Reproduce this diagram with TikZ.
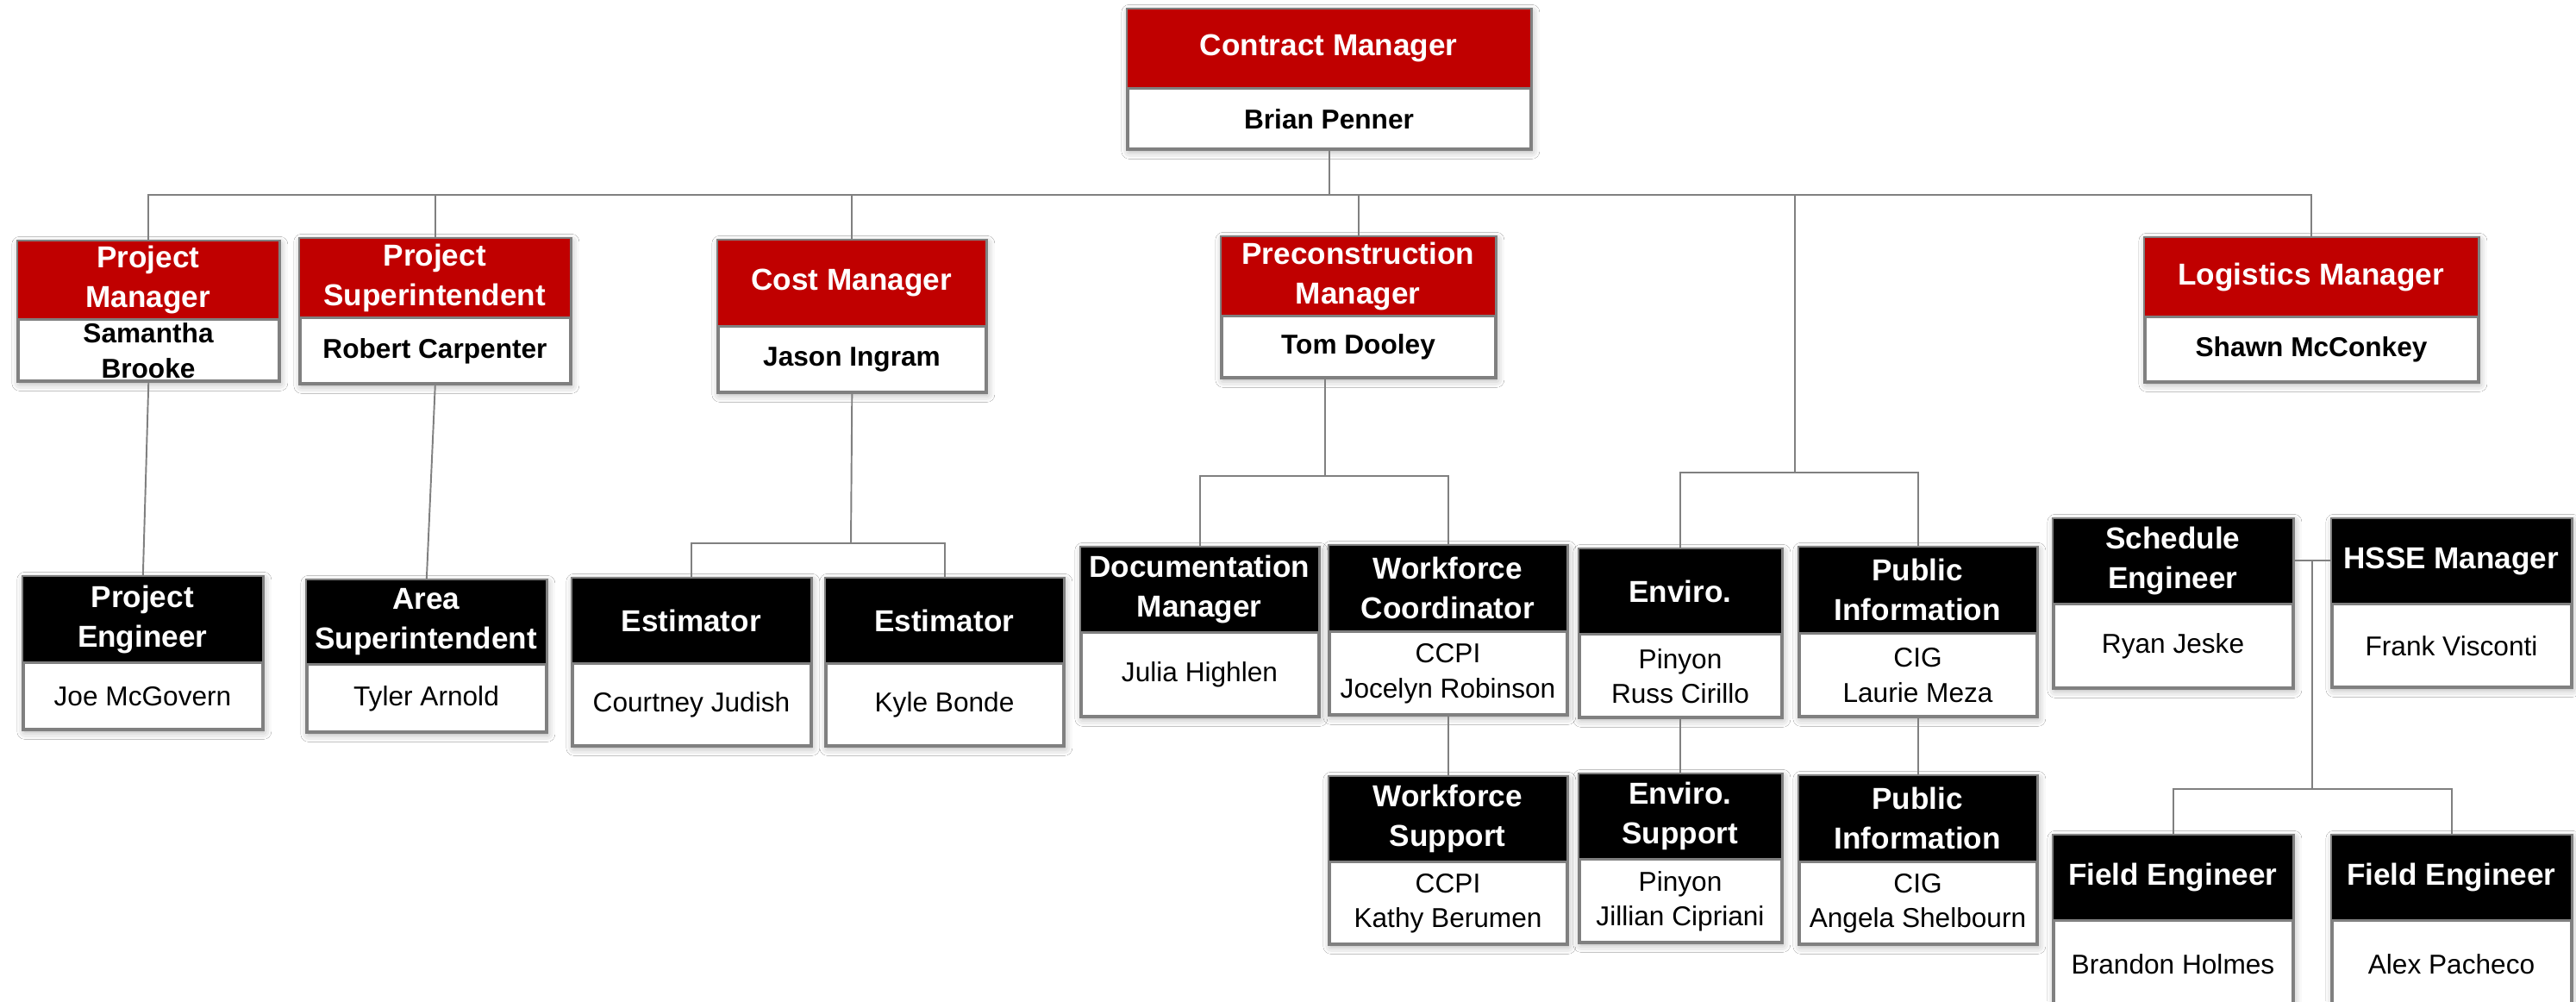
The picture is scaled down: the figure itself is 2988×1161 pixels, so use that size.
\documentclass[tikz,border=0pt]{standalone}
\usepackage{fontspec}
\setmainfont{Liberation Sans}
\usetikzlibrary{calc,shadows.blur}
\definecolor{hred}{RGB}{192,0,0}
\definecolor{edgegray}{RGB}{128,128,128}
\tikzset{
  frame/.style={draw=edgegray, line width=0.75pt, fill=white, inner sep=0pt,
    blur shadow={shadow xshift=0.15mm, shadow yshift=-0.3mm, shadow blur radius=0.9mm, shadow opacity=35}},
  redhead/.style={fill=hred, text=white, font=\fontsize{10}{13}\selectfont\bfseries, align=center, inner sep=0pt},
  blackhead/.style={fill=black, text=white, font=\fontsize{10}{13}\selectfont\bfseries, align=center, inner sep=0pt},
  redname/.style={font=\fontsize{9}{11.5}\selectfont\bfseries, align=center, inner sep=0pt},
  blackname/.style={font=\fontsize{9}{11.5}\selectfont, align=center, inner sep=0pt},
  conn/.style={draw=edgegray, line width=0.55pt},
  boxedge/.style={draw=edgegray, line width=0.75pt},
}
% #1 name, #2 left, #3 top, #4 right, #5 divider, #6 bottom, #7 red/black, #8 title, #9 person
\newcommand\obox[9]{%
  \node[frame, minimum width={(#4-#2)*0.1mm}, minimum height={(#6-#3)*0.1mm}, anchor=north west] (#1) at (#2,#3) {};
  \node[#7head, minimum width={(#4-#2)*0.1mm}, minimum height={(#5-#3)*0.1mm}, anchor=north west] (#1h) at (#1.north west) {#8};
  \node[#7name] (#1n) at ($(#1h.south)!0.5!(#1.south)$) {#9};
  \draw[boxedge] (#1h.south west) -- (#1h.south east);
  \draw[boxedge] (#1.north west) rectangle (#1.south east);
}
\begin{document}
\begin{tikzpicture}[x=0.1mm, y=-0.1mm]
\useasboundingbox[fill=white] (0,0) rectangle (2988,1161);

\obox{cm}{1307}{10}{1774}{101}{171}{red}{Contract Manager}{Brian Penner}
\obox{pm}{20}{279}{322}{369}{440}{red}{Project\\Manager}{Samantha\\Brooke}
\obox{ps}{347}{276}{660}{367}{443}{red}{Project\\Superintendent}{Robert Carpenter}
\obox{cost}{832}{278}{1142}{377}{453}{red}{Cost Manager}{Jason Ingram}
\obox{pre}{1416}{274}{1733}{365}{436}{red}{Preconstruction\\Manager}{Tom Dooley}
\obox{logm}{2487}{275}{2873}{366}{441}{red}{Logistics Manager}{Shawn McConkey}

\obox{pe}{26}{668}{303}{767}{844}{black}{Project\\Engineer}{Joe McGovern}
\obox{asup}{355}{672}{632}{769}{847}{black}{Area\\Superintendent}{Tyler Arnold}
\obox{estA}{663}{670}{939}{768}{863}{black}{Estimator}{Courtney Judish}
\obox{estB}{957}{670}{1232}{768}{863}{black}{Estimator}{Kyle Bonde}
\obox{doc}{1253}{634}{1528}{732}{829}{black}{Documentation\\Manager}{Julia Highlen}
\obox{wc}{1541}{632}{1816}{731}{827}{black}{Workforce\\Coordinator}{CCPI\\Jocelyn Robinson}
\obox{env}{1831}{636}{2065}{734}{830}{black}{Enviro.}{Pinyon\\Russ Cirillo}
\obox{pinf}{2086}{634}{2361}{733}{829}{black}{Public\\Information}{CIG\\Laurie Meza}
\obox{ws}{1541}{900}{1816}{998}{1093}{black}{Workforce\\Support}{CCPI\\Kathy Berumen}
\obox{es}{1831}{897}{2065}{995}{1091}{black}{Enviro.\\Support}{Pinyon\\Jillian Cipriani}
\obox{pinfB}{2086}{899}{2361}{998}{1093}{black}{Public\\Information}{CIG\\Angela Shelbourn}
\obox{se}{2381}{601}{2658}{699}{796}{black}{Schedule\\Engineer}{Ryan Jeske}
\obox{hsse}{2704}{601}{2981}{699}{795}{black}{HSSE Manager}{Frank Visconti}
\obox{feA}{2381}{968}{2658}{1066}{1166}{black}{Field Engineer}{Brandon Holmes}
\obox{feB}{2704}{968}{2981}{1066}{1166}{black}{Field Engineer}{Alex Pacheco}

% connectors
\coordinate (barY) at (0,226);
\draw[conn] (cm.south) -- (cm.south |- barY);
\draw[conn] (pm.north) -- (pm.north |- barY) -- (logm.north |- barY) -- (logm.north);
\draw[conn] (ps.north) -- (ps.north |- barY);
\draw[conn] (cost.north) -- (cost.north |- barY);
\draw[conn] (pre.north) -- (pre.north |- barY);
\coordinate (envj) at (2082,548);
\draw[conn] (envj) -- (envj |- barY);
\draw[conn] (env.north) -- (env.north |- envj) -- (pinf.north |- envj) -- (pinf.north);
\draw[conn] (pm.south) -- (pe.north);
\draw[conn] (ps.south) -- (asup.north);
\coordinate (costj) at (987,630);
\draw[conn] (cost.south) -- (costj);
\draw[conn] (estA.north) -- (estA.north |- costj) -- (estB.north |- costj) -- (estB.north);
\coordinate (prej) at (1537,552);
\draw[conn] (prej |- pre.south) -- (prej);
\draw[conn] (doc.north) -- (doc.north |- prej) -- (wc.north |- prej) -- (wc.north);
\draw[conn] (wc.south) -- (ws.north);
\draw[conn] (env.south) -- (es.north);
\draw[conn] (pinf.south) -- (pinfB.north);
\coordinate (sej) at (2682,650);
\draw[conn] (se.east |- sej) -- (hsse.west |- sej);
\coordinate (fej) at (2682,915);
\draw[conn] (sej) -- (fej);
\draw[conn] (feA.north) -- (feA.north |- fej) -- (feB.north |- fej) -- (feB.north);
\end{tikzpicture}
\end{document}
